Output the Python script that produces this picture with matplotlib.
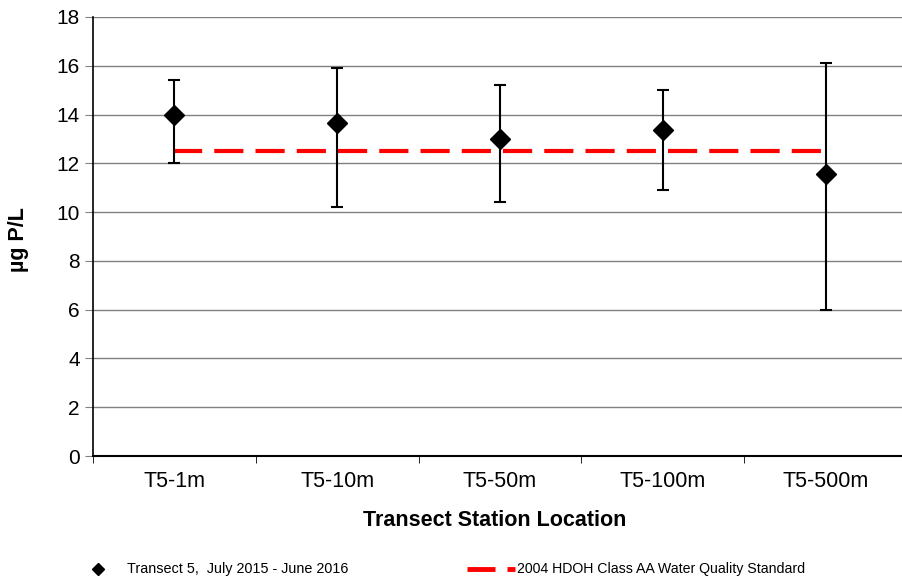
import matplotlib
matplotlib.use("Agg")
import matplotlib.pyplot as plt
from matplotlib.lines import Line2D
import numpy as np

plt.rcParams['font.family'] = ['Liberation Sans', 'DejaVu Sans']

categories = ["T5-1m", "T5-10m", "T5-50m", "T5-100m", "T5-500m"]
means = [14.0, 13.65, 13.0, 13.35, 11.55]
upper = [15.4, 15.9, 15.2, 15.0, 16.1]
lower = [12.0, 10.2, 10.4, 10.9, 6.0]
standard = 12.5
series_label = "Transect 5,  July 2015 - June 2016"
standard_label = "2004 HDOH Class AA Water Quality Standard"

W, H = 903, 582
fig = plt.figure(figsize=(W/100, H/100), dpi=100)
ax = fig.add_axes([93/W, (H-456)/H, (907-93)/W, 439/H])

x = np.arange(len(categories))
m = np.array(means)
yerr = np.vstack([m - np.array(lower), np.array(upper) - m])

ax.plot([x[0] - 0.01, x[-1]], [standard, standard], color='#ff0000', lw=3,
        dashes=(7, 2.9), solid_capstyle='butt', dash_capstyle='butt', zorder=3)
ax.errorbar(x, m, yerr=yerr, fmt='D', color='black', ms=10, elinewidth=1.5,
            capsize=4, capthick=1.5, zorder=4)

ax.set_xlim(-0.5, 4.5)
ax.set_ylim(0, 18)
ax.set_yticks(np.arange(0, 19, 2))
ax.set_xticks(x)
ax.set_xticklabels(categories, fontsize=15.5)
ax.tick_params(axis='x', length=0, pad=11)
ax.set_xticks(np.arange(-0.5, 5, 1), minor=True)
ax.tick_params(axis='x', which='minor', length=5, direction='out', color='black')
ax.tick_params(axis='y', labelsize=15, length=6, direction='out', pad=3.5,
               color='#808080')
ax.grid(axis='y', color='#808080', lw=1)
ax.set_axisbelow(True)
for s in ['top', 'right']:
    ax.spines[s].set_visible(False)
ax.spines['left'].set_linewidth(1.2)
ax.spines['bottom'].set_linewidth(1.5)

fig.text(495/W, 1 - 520/H, "Transect Station Location", fontsize=15.5,
         fontweight='bold', ha='center', va='center')
fig.text(19/W, 1 - 240/H, "µg P/L", fontsize=15.5, fontweight='bold',
         rotation=90, ha='center', va='center')

# legend (drawn in figure coordinates)
ly = 1 - 569/H
fig.add_artist(Line2D([98/W], [ly], marker='D', color='black', ls='none', ms=6,
                      transform=fig.transFigure))
fig.text(127/W, ly, series_label, fontsize=10.4, ha='left', va='center')
fig.add_artist(Line2D([467/W, 495/W], [ly, ly], color='#ff0000', lw=3.5,
                      solid_capstyle='butt', transform=fig.transFigure))
fig.add_artist(Line2D([507/W, 515/W], [ly, ly], color='#ff0000', lw=3.5,
                      solid_capstyle='butt', transform=fig.transFigure))
fig.text(517/W, ly, standard_label, fontsize=10.2, ha='left', va='center')

fig.savefig("out.png", dpi=100)
